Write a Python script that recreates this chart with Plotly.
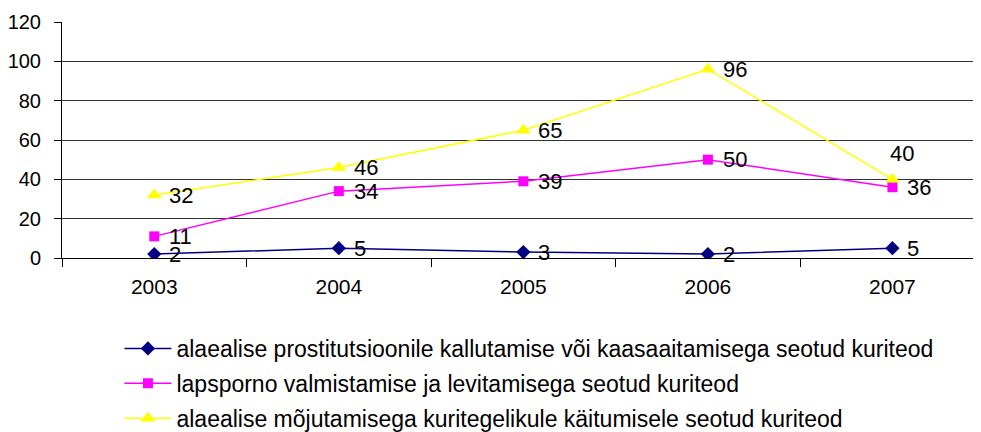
import plotly.graph_objects as go

# andmed
years = ["2003", "2004", "2005", "2006", "2007"]
prostitutsioon = [2, 5, 3, 2, 5]
lapsporno = [11, 34, 39, 50, 36]
mojutamine = [32, 46, 65, 96, 40]

names = [
    "alaealise prostitutsioonile kallutamise või kaasaaitamisega seotud kuriteod",
    "lapsporno valmistamise ja levitamisega seotud kuriteod",
    "alaealise mõjutamisega kuritegelikule käitumisele seotud kuriteod",
]
colors = ["#000080", "#FF00FF", "#FFFF00"]
symbols = ["diamond", "square", "triangle-up"]
msizes = [11, 10, 13]

series = [prostitutsioon, lapsporno, mojutamine]

fig = go.Figure()
for i, vals in enumerate(series):
    fig.add_trace(go.Scatter(
        x=years, y=vals,
        mode="lines+markers",
        name=names[i],
        line=dict(color=colors[i], width=1.5),
        marker=dict(symbol=symbols[i], size=msizes[i], color=colors[i]),
        legendgroup=str(i),
    ))
    # väärtuste sildid (x = kategooria järjekorranumber)
    for j, v in enumerate(vals):
        xs, ys = 13, 0
        if i == 2 and j == len(vals) - 1:  # 40 kattuks muidu 36-ga
            xs, ys = -4, 26
        fig.add_annotation(
            x=j, y=v, text=str(v), showarrow=False,
            xanchor="left", yanchor="middle", xshift=xs, yshift=ys,
            font=dict(size=22, color="black"),
        )

# lehe body veeris on 8px, seega joonis on 8px väiksem
fig.update_layout(
    width=973, height=424,
    margin=dict(l=54, r=0, t=14, b=174),
    plot_bgcolor="white", paper_bgcolor="white",
    font=dict(family="Liberation Sans, Arial", size=20, color="black"),
    showlegend=True,
    legend=dict(
        x=0.0625, y=1 - 319 / 424, xanchor="left", yanchor="top",
        yref="container",
        traceorder="grouped", tracegroupgap=2,
        font=dict(size=23), itemwidth=47,
        bgcolor="rgba(0,0,0,0)",
    ),
)
fig.update_xaxes(
    type="category", tickson="boundaries", ticks="outside", ticklen=8,
    tickcolor="black", showline=True, linecolor="black", linewidth=1,
    showgrid=False, range=[-0.5, 4.48], ticklabelstandoff=10,
    tickfont=dict(size=21), automargin=False,
)
fig.update_yaxes(
    range=[0, 120], dtick=20, ticks="outside", ticklen=7, tickcolor="black",
    showline=True, linecolor="black", linewidth=1,
    showgrid=True, gridcolor="#333333", gridwidth=1, zeroline=False,
    tickfont=dict(size=20), ticklabelstandoff=9, automargin=False,
)

fig.write_html("out.html")
